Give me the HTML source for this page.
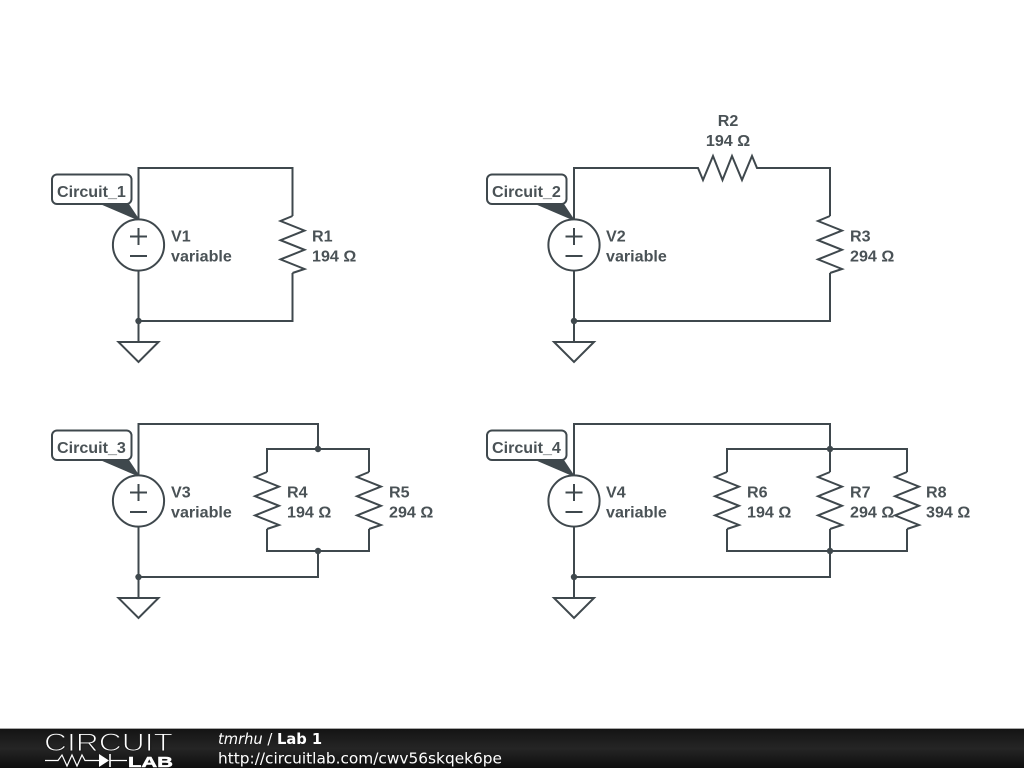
<!DOCTYPE html>
<html>
<head>
<meta charset="utf-8">
<style>
html,body{margin:0;padding:0;background:#fff;width:1024px;height:768px;overflow:hidden}
svg{display:block;position:absolute;left:0;top:0}
.w{fill:none;stroke:#3f484d;stroke-width:2;stroke-linejoin:miter}
.t{font-family:"Liberation Sans",sans-serif;font-weight:bold;font-size:16.1px;fill:#4a5256}
.f{font-family:"DejaVu Sans",sans-serif;fill:#fff;font-size:15.5px}
</style>
</head>
<body>
<svg width="1024" height="768" viewBox="0 0 1024 768" xmlns="http://www.w3.org/2000/svg">
<defs>
<linearGradient id="bar" x1="0" y1="0" x2="0" y2="1">
<stop offset="0" stop-color="#141414"/><stop offset="0.5" stop-color="#252525"/><stop offset="1" stop-color="#0e0e0e"/>
</linearGradient>
<g id="src">
<circle class="w" cx="0" cy="0" r="25.6"/>
<path class="w" d="M-8.5,-8.5H8.5M0,-17V0M-8.5,11H8.5"/>
</g>
<path id="gnd" class="w" d="M-20,0H20L0,20Z"/>
<path id="rv" class="w" d="M0,0L-12,5L12,14.6L-12,24.2L12,33.8L-12,43.4L12,53L0,57"/>
<path id="tail" d="M0,0H29L39,15H35Z" fill="#3f484d"/>
</defs>

<!-- Circuit 1 -->
<path class="w" d="M138.5,219V168H292.5V216M292.5,273V321H138.5M138.5,271V342"/>
<use href="#src" x="138.5" y="245"/>
<use href="#rv" x="292.5" y="216"/>
<use href="#gnd" x="138.5" y="342"/>
<circle cx="138.5" cy="321" r="3.2" fill="#3f484d"/>
<use href="#tail" x="100" y="204"/>
<rect class="w" x="52" y="174.5" width="79.5" height="29.5" rx="5" fill="#fff" style="fill:#fff"/>
<text class="t" x="57" y="197">Circuit_1</text>
<text class="t" x="171" y="241.5">V1</text><text class="t" x="171" y="261.5">variable</text>
<text class="t" x="312" y="241.5">R1</text><text class="t" x="312" y="261.5">194 Ω</text>

<!-- Circuit 2 -->
<path class="w" d="M574,219V168H698L703,180L713,156L722.5,180L732,156L742,180L752,156L757,168H830V216M830,273V321H574M574,271V342"/>
<use href="#src" x="574" y="245"/>
<use href="#rv" x="830" y="216"/>
<use href="#gnd" x="574" y="342"/>
<circle cx="574" cy="321" r="3.2" fill="#3f484d"/>
<use href="#tail" x="535" y="204"/>
<rect class="w" x="487" y="174.5" width="79.5" height="29.5" rx="5" style="fill:#fff"/>
<text class="t" x="492" y="197">Circuit_2</text>
<text class="t" x="606" y="241.5">V2</text><text class="t" x="606" y="261.5">variable</text>
<text class="t" x="728" y="126" text-anchor="middle">R2</text><text class="t" x="728" y="146" text-anchor="middle">194 Ω</text>
<text class="t" x="850" y="241.5">R3</text><text class="t" x="850" y="261.5">294 Ω</text>

<!-- Circuit 3 -->
<path class="w" d="M138.5,475V424H318V449M267,472V449H369V472M267,529V551H369V529M318,551V577H138.5M138.5,527V598"/>
<use href="#src" x="138.5" y="501"/>
<use href="#rv" x="267" y="472"/>
<use href="#rv" x="369" y="472"/>
<use href="#gnd" x="138.5" y="598"/>
<circle cx="318" cy="449" r="3.2" fill="#3f484d"/>
<circle cx="318" cy="551" r="3.2" fill="#3f484d"/>
<circle cx="138.5" cy="577" r="3.2" fill="#3f484d"/>
<use href="#tail" x="100" y="460"/>
<rect class="w" x="52" y="430.5" width="79.5" height="29.5" rx="5" style="fill:#fff"/>
<text class="t" x="57" y="453">Circuit_3</text>
<text class="t" x="171" y="497.5">V3</text><text class="t" x="171" y="517.5">variable</text>
<text class="t" x="287" y="497.5">R4</text><text class="t" x="287" y="517.5">194 Ω</text>
<text class="t" x="389" y="497.5">R5</text><text class="t" x="389" y="517.5">294 Ω</text>

<!-- Circuit 4 -->
<path class="w" d="M574,475V424H830V472M727,472V449H907V472M727,529V551H907V529M830,529V577H574M574,527V598"/>
<use href="#src" x="574" y="501"/>
<use href="#rv" x="727" y="472"/>
<use href="#rv" x="830" y="472"/>
<use href="#rv" x="907" y="472"/>
<use href="#gnd" x="574" y="598"/>
<circle cx="830" cy="449" r="3.2" fill="#3f484d"/>
<circle cx="830" cy="551" r="3.2" fill="#3f484d"/>
<circle cx="574" cy="577" r="3.2" fill="#3f484d"/>
<use href="#tail" x="535" y="460"/>
<rect class="w" x="487" y="430.5" width="79.5" height="29.5" rx="5" style="fill:#fff"/>
<text class="t" x="492" y="453">Circuit_4</text>
<text class="t" x="606" y="497.5">V4</text><text class="t" x="606" y="517.5">variable</text>
<text class="t" x="747" y="497.5">R6</text><text class="t" x="747" y="517.5">194 Ω</text>
<text class="t" x="850" y="497.5">R7</text><text class="t" x="850" y="517.5">294 Ω</text>
<text class="t" x="926" y="497.5">R8</text><text class="t" x="926" y="517.5">394 Ω</text>

<!-- Footer -->
<rect x="0" y="728" width="1024" height="1" fill="#a8a8a8"/>
<rect x="0" y="729" width="1024" height="39" fill="url(#bar)"/>
<text x="44" y="751" font-family="'Liberation Sans',sans-serif" font-size="25" fill="#fff" stroke="#1c1c1c" stroke-width="1" textLength="129" lengthAdjust="spacingAndGlyphs">CIRCUIT</text>
<path d="M45,760.5H58L62,755L67,766L72,755L77,766L82,755L85,760.5H99M110,760.5H127" fill="none" stroke="#fff" stroke-width="1.2"/>
<path d="M99,754L109,760.5L99,767Z" fill="#fff"/>
<path d="M110,754V767" stroke="#fff" stroke-width="1.6"/>
<text x="128" y="767" font-family="'Liberation Sans',sans-serif" font-weight="bold" font-size="15" fill="#fff" stroke="#fff" stroke-width="0.5" textLength="45" lengthAdjust="spacingAndGlyphs">LAB</text>
<text class="f" x="218" y="744" style="font-size:14.7px"><tspan font-style="italic">tmrhu</tspan> / <tspan font-weight="bold">Lab 1</tspan></text>
<text class="f" x="218" y="763.5" textLength="284" lengthAdjust="spacingAndGlyphs">http://circuitlab.com/cwv56skqek6pe</text>
</svg>
</body>
</html>
